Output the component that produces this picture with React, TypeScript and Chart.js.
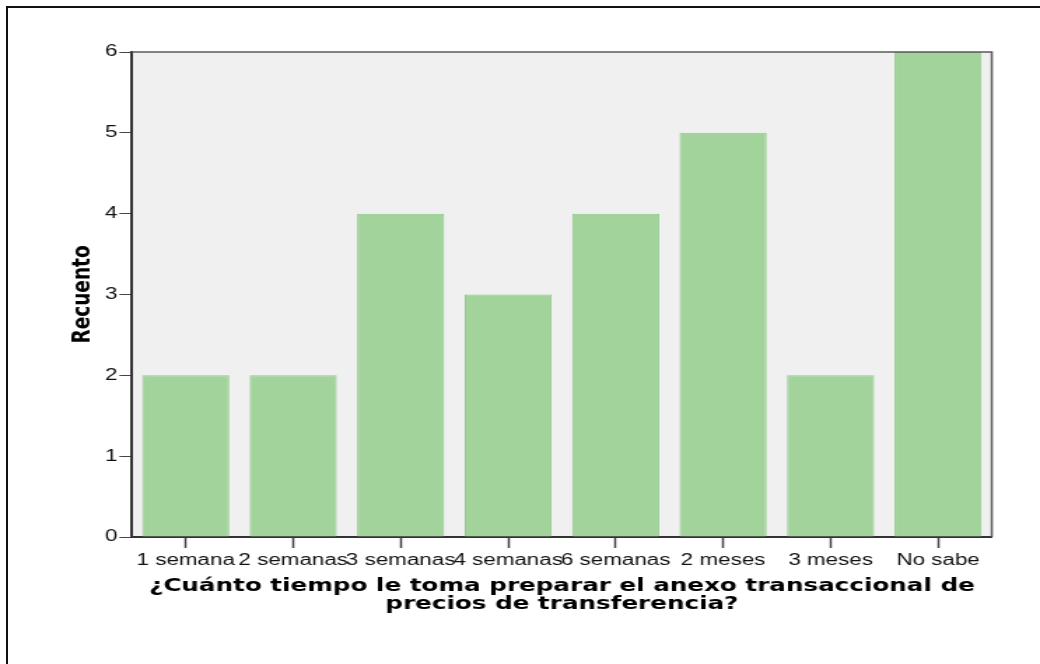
import React, { useEffect, useRef } from 'react';
import { Chart, registerables } from 'chart.js';

Chart.register(...registerables);

const categories = ['1 semana', '2 semanas', '3 semanas', '4 semanas', '6 semanas', '2 meses', '3 meses', 'No sabe'];
const counts = [2, 2, 4, 3, 4, 5, 2, 6];
const yMin = 0;
const yMax = 6;
const yStep = 1;
const xTitle = ['¿Cuánto tiempo le toma preparar el anexo transaccional de', 'precios de transferencia?'];
const yTitle = 'Recuento';

// The reference is horizontally stretched; draw narrow and stretch with CSS.
const SX = 1.4;
const PAGE_W = 1040;
const PAGE_H = 664;
const CW = Math.round(PAGE_W / SX);
const CH = PAGE_H;

const TICK_FONT = '"Liberation Sans", Arial, sans-serif';
const TITLE_FONT = '"DejaVu Sans", Verdana, sans-serif';

const framePlugin = {
  id: 'frame',
  beforeDraw(chart: any) {
    const { ctx, chartArea: a } = chart;
    ctx.save();
    ctx.fillStyle = '#f0f0f0';
    ctx.fillRect(a.left, a.top, a.right - a.left, a.bottom - a.top);
    ctx.restore();
  },
  afterDatasetsDraw(chart: any) {
    const { ctx, chartArea: a } = chart;
    ctx.save();
    ctx.strokeStyle = '#5a5a5a';
    ctx.lineWidth = 1.5;
    ctx.beginPath();
    ctx.moveTo(a.left, a.top);
    ctx.lineTo(a.right, a.top);
    ctx.lineTo(a.right, a.bottom);
    ctx.stroke();
    ctx.restore();
  },
};

export default function App() {
  const ref = useRef<HTMLCanvasElement | null>(null);

  useEffect(() => {
    if (!ref.current) return;
    const chart = new Chart(ref.current, {
      type: 'bar',
      data: {
        labels: categories,
        datasets: [
          {
            data: counts,
            backgroundColor: '#a1d39b',
            borderColor: '#8cc986',
            borderWidth: 1,
            barPercentage: 0.81,
            categoryPercentage: 1,
          },
        ],
      },
      options: {
        responsive: false,
        animation: false,
        devicePixelRatio: 1,
        layout: { padding: { left: 0, top: 52, right: CW - 992 / SX, bottom: 0 } },
        plugins: {
          legend: { display: false },
          tooltip: { enabled: false },
          title: { display: false },
        },
        scales: {
          x: {
            type: 'category',
            z: 1,
            offset: true,
            grid: {
              offset: false,
              drawOnChartArea: false,
              drawTicks: true,
              tickLength: 11,
              tickWidth: 1.5,
              tickColor: '#444',
            },
            border: { display: true, color: '#333', width: 2 },
            ticks: {
              autoSkip: false,
              maxRotation: 0,
              minRotation: 0,
              padding: 3,
              color: '#111',
              font: { family: TICK_FONT, size: 16 },
            },
            title: {
              display: true,
              text: xTitle,
              color: '#000',
              font: { family: TITLE_FONT, size: 17.6, weight: 'bold', lineHeight: 1.02 },
              padding: { top: 0, bottom: 51 },
            },
            afterFit(scale: any) {
              scale.height = PAGE_H - 537;
            },
          },
          y: {
            min: yMin,
            max: yMax,
            z: 1,
            ticks: {
              stepSize: yStep,
              padding: 1.5,
              color: '#111',
              font: { family: TICK_FONT, size: 16 },
            },
            grid: {
              drawOnChartArea: false,
              drawTicks: true,
              tickLength: 9,
              tickWidth: 1,
              tickColor: '#444',
            },
            border: { display: true, color: '#333', width: 2 },
            title: {
              display: true,
              text: yTitle,
              color: '#000',
              font: { family: TITLE_FONT, size: 18.5, weight: 'bold', lineHeight: 1.2 },
              padding: { top: 48.5, bottom: 0 },
            },
            afterFit(scale: any) {
              scale.width = 132 / SX;
            },
          },
        },
      } as any,
      plugins: [framePlugin],
    });
    return () => chart.destroy();
  }, []);

  return (
    <div style={{ position: 'absolute', left: 0, top: 0, width: PAGE_W, height: PAGE_H, overflow: 'hidden', background: '#fff' }}>
      <div
        style={{
          position: 'absolute',
          left: 6,
          top: 6,
          width: 1200,
          height: 900,
          border: '2px solid #111',
          boxSizing: 'border-box',
        }}
      />
      <canvas
        ref={ref}
        width={CW}
        height={CH}
        style={{ position: 'absolute', left: 0, top: 0, width: PAGE_W + 'px', height: PAGE_H + 'px' }}
      />
    </div>
  );
}
